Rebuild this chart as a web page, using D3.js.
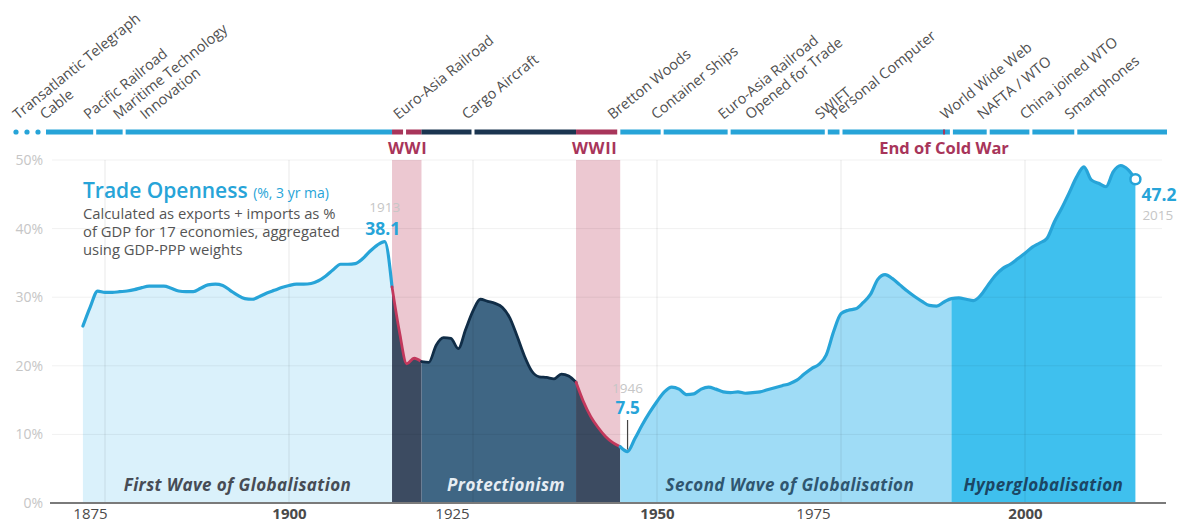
<!DOCTYPE html>
<html><head><meta charset="utf-8">
<script src="https://cdn.jsdelivr.net/npm/d3@7/dist/d3.min.js"></script>
<style>
html,body{margin:0;padding:0;background:#fff}
svg{display:block;font-family:"Open Sans","Noto Sans",sans-serif}
</style>
</head><body>
<svg id="chart" width="1181" height="524"></svg>
<script>
// ---------- DATA ----------
const years = d3.range(1872, 2016);
const openness = [
  25.8, 28.6, 30.9, 30.7, 30.7, 30.8, 30.9, 31.1,                 // 1872-1879
  31.4, 31.6, 31.6, 31.6, 31.3, 30.9, 30.8, 30.8, 31.3, 31.8,     // 1880-1889
  31.9, 31.7, 31.0, 30.3, 29.8, 29.7, 30.1, 30.6, 31.0, 31.4,     // 1890-1899
  31.7, 31.9, 31.9, 32.0, 32.4, 33.1, 34.0, 34.8, 34.8, 34.9,     // 1900-1909
  35.6, 36.7, 37.6, 38.1, 31.5, 25.0, 20.3, 21.1, 20.6, 20.5,     // 1910-1919
  23.0, 24.1, 24.0, 22.5, 25.3, 28.0, 29.7, 29.4, 29.1, 28.5,     // 1920-1929
  27.0, 24.3, 21.4, 19.2, 18.4, 18.3, 18.1, 18.8, 18.5, 17.6,     // 1930-1939
  14.8, 12.6, 11.0, 9.7, 8.8, 8.2, 7.5, 9.4, 11.4, 13.2,          // 1940-1949
  14.8, 16.2, 16.9, 16.6, 15.8, 15.9, 16.6, 16.9, 16.6, 16.2,     // 1950-1959
  16.1, 16.2, 16.0, 16.1, 16.2, 16.5, 16.8, 17.1, 17.4, 17.9,     // 1960-1969
  18.8, 19.6, 20.2, 21.6, 25.0, 27.6, 28.1, 28.3, 29.2, 30.4,     // 1970-1979
  32.6, 33.3, 32.7, 31.8, 30.9, 30.1, 29.4, 28.8, 28.7, 29.3,     // 1980-1989
  29.8, 29.9, 29.7, 29.5, 30.3, 31.8, 33.2, 34.2, 34.8, 35.6,     // 1990-1999
  36.4, 37.3, 37.9, 38.6, 41.0, 43.0, 45.2, 47.5, 49.0, 47.1,     // 2000-2009
  46.6, 46.1, 48.3, 49.2, 48.6, 47.2                              // 2010-2015
];

const periodNames = ["First Wave of Globalisation", "Protectionism", "Second Wave of Globalisation", "Hyperglobalisation"];
const periodStart = [1872, 1914, 1945, 1990];
const periodEnd   = [1914, 1945, 1990, 2015];

const warNames = ["WWI", "WWII"];
const warStart = [1914, 1939];
const warEnd   = [1918, 1945];

const eventLabels = [
  ["Transatlantic Telegraph", "Cable"],
  ["Pacific Railroad"],
  ["Maritime Technology", "Innovation"],
  ["Euro-Asia Railroad"],
  ["Cargo Aircraft"],
  ["Bretton Woods"],
  ["Container Ships"],
  ["Euro-Asia Railroad", "Opened for Trade"],
  ["SWIFT"],
  ["Personal Computer"],
  ["World Wide Web"],
  ["NAFTA / WTO"],
  ["China joined WTO"],
  ["Smartphones"]
];
const eventYears = [1864, 1873.6, 1877.6, 1915.7, 1925, 1944.8, 1950.7, 1959.8, 1973, 1975, 1990, 1995, 2000.8, 2006.9];

const coldWarEndYear = 1989;
const xTicks = [1875, 1900, 1925, 1950, 1975, 2000];
const yTicks = [0, 10, 20, 30, 40, 50];

const peakYear = 1913, peakValue = 38.1;
const lowYear = 1946, lowValue = 7.5;
const lastYear = 2015, lastValue = 47.2;

// ---------- SETUP ----------
const data = years.map((y, i) => ({year: y, v: openness[i]}));
const svg = d3.select("#chart");

const x = d3.scaleLinear().domain([1870, 2020]).range([68.2, 1172.2]);
const y = d3.scaleLinear().domain([0, 50]).range([503, 160]);

const C = {
  blue: "#27a4d8", red: "#c2385c", navy: "#102d47",
  pink: "#ecc8d1", grey: "#c6c6c6", text: "#555"
};
const periodFill = ["#daf1fb", "#3f6684", "#9fdcf6", "#3fc0ee"];
const warFill = "#3c4b61";
const periodLabelColor = ["#474c55", "#e6edf3", "#2f5670", "#1b4664"];
const tickLabelShift = [-15, 0, -21, 0, -28, 0];

// ---------- WAR BANDS ----------
svg.append("g").selectAll("rect").data(warStart).join("rect")
  .attr("x", (d) => x(d))
  .attr("width", (d, i) => x(warEnd[i]) - x(d))
  .attr("y", y(50))
  .attr("height", y(0) - y(50))
  .attr("fill", C.pink);

// ---------- GRID (horizontal) ----------
const gy = svg.append("g");
gy.selectAll("line").data(yTicks.filter(t => t > 0)).join("line")
  .attr("x1", 52).attr("x2", 1162)
  .attr("y1", d => y(d)).attr("y2", d => y(d))
  .attr("stroke", "#ececec").attr("stroke-width", 1);

// ---------- AREAS ----------
const seg = (a, b) => data.filter(d => d.year >= a && d.year <= b);
const area = d3.area().x(d => x(d.year)).y0(y(0)).y1(d => y(d.v)).curve(d3.curveMonotoneX);
const line = d3.line().x(d => x(d.year)).y(d => y(d.v)).curve(d3.curveMonotoneX);

const areaSegs = [
  {a: periodStart[0], b: periodEnd[0], fill: periodFill[0]},
  {a: warStart[0], b: warEnd[0], fill: warFill},
  {a: warEnd[0], b: warStart[1], fill: periodFill[1]},
  {a: warStart[1], b: warEnd[1], fill: warFill},
  {a: periodStart[2], b: periodEnd[2], fill: periodFill[2]},
  {a: periodStart[3], b: periodEnd[3], fill: periodFill[3]}
];
svg.append("g").selectAll("path").data(areaSegs).join("path")
  .attr("d", s => area(seg(s.a, s.b)))
  .attr("fill", s => s.fill);

// vertical grid on top, subtle
svg.append("g").selectAll("line").data(xTicks).join("line")
  .attr("x1", d => x(d)).attr("x2", d => x(d))
  .attr("y1", y(50)).attr("y2", y(0))
  .attr("stroke", "#000").attr("stroke-opacity", 0.09).attr("stroke-width", 1);
gy.raise();
gy.selectAll("line").attr("stroke", "#000").attr("stroke-opacity", 0.06);

// ---------- LINES ----------
const lineSegs = [
  {a: periodStart[0], b: warStart[0], c: C.blue, w: 3.2},
  {a: warStart[0], b: warEnd[0], c: C.red, w: 2.8},
  {a: warEnd[0], b: warStart[1], c: C.navy, w: 2.8},
  {a: warStart[1], b: warEnd[1], c: C.red, w: 2.8},
  {a: warEnd[1], b: periodEnd[3], c: C.blue, w: 3.2}
];
svg.append("g").selectAll("path").data(lineSegs).join("path")
  .attr("d", s => line(seg(s.a, s.b)))
  .attr("fill", "none").attr("stroke", s => s.c).attr("stroke-width", s => s.w)
  .attr("stroke-linejoin", "round").attr("stroke-linecap", "round");

// ---------- X AXIS ----------
const xAxis = d3.axisBottom(x).tickValues(xTicks).tickSize(0).tickFormat(d3.format("d"));
const gx = svg.append("g").attr("transform", `translate(0,${y(0)})`).call(xAxis);
gx.select(".domain").remove();
gx.selectAll("text")
  .attr("y", 0).attr("dy", 16)
  .attr("dx", (d, i) => tickLabelShift[i])
  .attr("font-size", 15).attr("fill", "#4a4a4a")
  .attr("font-weight", d => d % 50 ? 400 : 700)
  .attr("font-family", '"Open Sans",sans-serif');
svg.append("line").attr("x1", 50).attr("x2", 1166)
  .attr("y1", y(0)).attr("y2", y(0))
  .attr("stroke", "#7a7a7a").attr("stroke-width", 2);

// ---------- Y AXIS ----------
const yAxis = d3.axisLeft(y).tickValues(yTicks).tickSize(0).tickFormat(d => d + "%");
const gyy = svg.append("g").attr("transform", "translate(46,0)").call(yAxis);
gyy.select(".domain").remove();
gyy.selectAll("text").attr("font-size", 14).attr("fill", C.grey)
  .attr("font-family", '"Open Sans",sans-serif');

// ---------- PERIOD LABELS ----------
svg.append("g").selectAll("text").data(periodNames).join("text")
  .attr("x", (d, i) => (x(periodStart[i]) + x(periodEnd[i])) / 2 + [0, 0, 4, 0][i])
  .attr("y", 491)
  .attr("text-anchor", "middle")
  .attr("font-size", 17).attr("font-style", "italic").attr("font-weight", 700)
  .attr("letter-spacing", 0.4)
  .attr("fill", (d, i) => periodLabelColor[i])
  .text(d => d);

// ---------- TIMELINE ----------
const tY = 132, tH = 5;
const tStart = 46, tEnd = 1167;
const tl = svg.append("g");
const tlSegs = [
  {a: tStart, b: x(warStart[0]), c: C.blue},
  {a: x(warStart[0]), b: x(warEnd[0]), c: "#a8355a"},
  {a: x(warEnd[0]), b: x(warStart[1]), c: "#1b3550"},
  {a: x(warStart[1]), b: x(warEnd[1]), c: "#a8355a"},
  {a: x(warEnd[1]), b: tEnd, c: C.blue}
];
tl.selectAll("rect.s").data(tlSegs).join("rect").attr("class", "s")
  .attr("x", s => s.a).attr("width", s => s.b - s.a)
  .attr("y", tY - tH / 2).attr("height", tH).attr("fill", s => s.c);
tl.selectAll("circle").data([16, 27, 38]).join("circle")
  .attr("cx", d => d).attr("cy", tY).attr("r", 2.6).attr("fill", C.blue);
// gaps at events
tl.selectAll("rect.g").data(eventYears.filter(yr => x(yr) > tStart)).join("rect").attr("class", "g")
  .attr("x", yr => x(yr) - 1.5).attr("width", 3)
  .attr("y", tY - tH / 2 - 1).attr("height", tH + 2).attr("fill", "#fff");
// end of cold war marker
tl.append("rect").attr("x", x(coldWarEndYear) - 1).attr("width", 2)
  .attr("y", tY - tH / 2).attr("height", tH).attr("fill", "#a8355a");

// war labels
svg.append("g").selectAll("text").data(warNames).join("text")
  .attr("x", (d, i) => x(warStart[i]) - 4)
  .attr("y", 154)
  .attr("font-size", 16.5).attr("font-weight", 700).attr("fill", "#a8355a")
  .attr("letter-spacing", 0.6)
  .text(d => d);
svg.append("text").attr("x", x(coldWarEndYear)).attr("y", 154)
  .attr("text-anchor", "middle")
  .attr("font-size", 16.5).attr("font-weight", 700).attr("fill", "#a8355a")
  .text("End of Cold War");

// event labels
const ev = svg.append("g");
eventLabels.forEach((lines, i) => {
  const x0 = x(eventYears[i]) - 6, y0 = 120;
  lines.forEach((t, j) => {
    ev.append("text")
      .attr("transform", `translate(${x0 + 27 * j},${y0}) rotate(-39)`)
      .attr("font-size", 14.5).attr("fill", "#505050")
      .text(t);
  });
});

// ---------- ANNOTATIONS ----------
const ann = svg.append("g");
const title = ann.append("text").attr("x", 83).attr("y", 198)
  .attr("fill", C.blue);
title.append("tspan").attr("font-size", 21).attr("font-weight", 600).text("Trade Openness ");
title.append("tspan").attr("font-size", 14).attr("font-weight", 400).text("(%, 3 yr ma)");
["Calculated as exports + imports as %", "of GDP for 17 economies, aggregated", "using GDP-PPP weights"]
  .forEach((t, i) => ann.append("text").attr("x", 83).attr("y", 219 + i * 18)
    .attr("font-size", 14.8).attr("fill", "#555").text(t));

// peak 1913
ann.append("text").attr("x", x(peakYear)).attr("y", 212).attr("text-anchor", "middle")
  .attr("font-size", 13.5).attr("fill", C.grey).text(peakYear);
ann.append("text").attr("x", x(peakYear) - 2).attr("y", 235).attr("text-anchor", "middle")
  .attr("font-size", 17.5).attr("font-weight", 700).attr("fill", C.blue).text(peakValue.toFixed(1));

// low 1946
ann.append("text").attr("x", x(lowYear)).attr("y", 393).attr("text-anchor", "middle")
  .attr("font-size", 13.5).attr("fill", C.grey).text(lowYear);
ann.append("text").attr("x", x(lowYear)).attr("y", 414).attr("text-anchor", "middle")
  .attr("font-size", 17).attr("font-weight", 700).attr("fill", C.blue).text(lowValue.toFixed(1));
ann.append("line").attr("x1", x(lowYear)).attr("x2", x(lowYear))
  .attr("y1", 420).attr("y2", y(lowValue) - 2)
  .attr("stroke", "#444").attr("stroke-width", 1.2);

// last 2015
ann.append("circle").attr("cx", x(lastYear)).attr("cy", y(lastValue)).attr("r", 5)
  .attr("fill", "#fff").attr("stroke", C.blue).attr("stroke-width", 2.5);
ann.append("text").attr("x", x(lastYear) + 6).attr("y", 201)
  .attr("font-size", 17.5).attr("font-weight", 700).attr("fill", C.blue).text(lastValue.toFixed(1));
ann.append("text").attr("x", x(lastYear) + 7).attr("y", 220)
  .attr("font-size", 13.5).attr("fill", C.grey).text(lastYear);
</script>
</body></html>
